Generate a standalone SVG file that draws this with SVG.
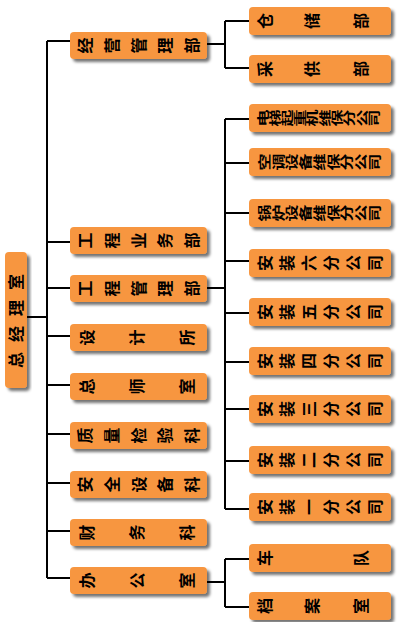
<svg xmlns="http://www.w3.org/2000/svg" width="400" height="622" viewBox="0 0 400 622">
<style>
.box{fill:#F7963F;filter:url(#sh)}
.t{font-family:"Noto Sans CJK SC","Noto Sans",sans-serif;font-weight:bold;font-size:16px;fill:#000}
.tl{font-family:"Noto Sans CJK SC","Noto Sans",sans-serif;font-weight:bold;font-size:17px;fill:#000}
.ln{stroke:#000;stroke-width:2;fill:none}
</style>
<defs>
<filter id="sh" x="-10%" y="-20%" width="130%" height="160%">
<feGaussianBlur in="SourceAlpha" stdDeviation="1.5"/>
<feOffset dx="3" dy="3" result="b"/>
<feComponentTransfer><feFuncA type="linear" slope="0.55"/></feComponentTransfer>
<feMerge><feMergeNode/><feMergeNode in="SourceGraphic"/></feMerge>
</filter>
</defs>
<rect width="400" height="622" fill="#fff"/>
<g id="connectors">
<path class="ln" d="M27,317H47M47,41V578M47,41H70M47,242H70M47,288H70M47,336H70M47,385H70M47,434H70M47,483H70M47,531H70M47,578H70"/>
<path class="ln" d="M207,44H225M225,21V68M225,21H249M225,68H249"/>
<path class="ln" d="M207,288H225M225,119V509M225,119H249M225,163H249M225,213H249M225,261H249M225,313H249M225,362H249M225,409H249M225,461H249M225,509H249"/>
<path class="ln" d="M207,582H225M225,559V607M225,559H249M225,607H249"/>
</g>
<g id="root"><rect class="box" x="5" y="252" width="22" height="136" rx="4"/><text class="t" x="22.1 22.1 22.1 22.1" y="368 342 316 290" rotate="-90">总经理室</text></g>
<g id="n_jygl"><rect class="box" x="70" y="32" width="137" height="27" rx="4"/><text class="t" x="91.1 117.85 144.6 171.35 198.1" y="53.5" rotate="-90">经营管理部</text></g>
<g id="n_gcyw"><rect class="box" x="70" y="227" width="137" height="27" rx="4"/><text class="t" x="91.1 117.85 144.6 171.35 198.1" y="248.5" rotate="-90">工程业务部</text></g>
<g id="n_gcgl"><rect class="box" x="70" y="275" width="137" height="27" rx="4"/><text class="t" x="91.1 117.85 144.6 171.35 198.1" y="296.5" rotate="-90">工程管理部</text></g>
<g id="n_sjs"><rect class="box" x="70" y="324" width="137" height="27" rx="4"/><text class="t" x="93.1 143.1 193.1" y="345.5" rotate="-90">设计所</text></g>
<g id="n_zss"><rect class="box" x="70" y="373" width="137" height="27" rx="4"/><text class="t" x="93.1 143.1 193.1" y="394.5" rotate="-90">总师室</text></g>
<g id="n_zljy"><rect class="box" x="70" y="422" width="137" height="27" rx="4"/><text class="t" x="91.1 117.85 144.6 171.35 198.1" y="443.5" rotate="-90">质量检验科</text></g>
<g id="n_aqsb"><rect class="box" x="70" y="471" width="137" height="27" rx="4"/><text class="t" x="91.1 117.85 144.6 171.35 198.1" y="492.5" rotate="-90">安全设备科</text></g>
<g id="n_cwk"><rect class="box" x="70" y="519" width="137" height="27" rx="4"/><text class="t" x="93.1 143.1 193.1" y="540.5" rotate="-90">财务科</text></g>
<g id="n_bgs"><rect class="box" x="70" y="567" width="137" height="27" rx="4"/><text class="t" x="93.1 143.1 193.1" y="588.5" rotate="-90">办公室</text></g>
<g id="n_ccb"><rect class="box" x="249" y="7" width="142" height="28" rx="4"/><text class="t" x="271.1 318.1 367.1" y="29" rotate="-90">仓储部</text></g>
<g id="n_cgb"><rect class="box" x="249" y="55" width="142" height="28" rx="4"/><text class="t" x="271.1 318.1 367.1" y="77" rotate="-90">采供部</text></g>
<g id="n_dt"><rect class="box" x="249" y="104" width="142" height="28" rx="4"/><g transform="scale(0.72 1)"><text class="tl" x="371.74 388.96 406.18 423.40 440.63 457.85 475.07 492.29 509.52 526.74" y="126.5" rotate="-90">电梯起重机维保分公司</text></g></g>
<g id="n_kt"><rect class="box" x="249" y="148" width="142" height="28" rx="4"/><g transform="scale(0.76 1)"><text class="tl" x="353.83 371.92 390.01 408.10 426.20 444.29 462.38 480.47 498.56" y="170.5" rotate="-90">空调设备维保分公司</text></g></g>
<g id="n_gl"><rect class="box" x="249" y="199" width="142" height="28" rx="4"/><g transform="scale(0.76 1)"><text class="tl" x="353.83 371.92 390.01 408.10 426.20 444.29 462.38 480.47 498.56" y="221.5" rotate="-90">锅炉设备维保分公司</text></g></g>
<g id="n_az6"><rect class="box" x="249" y="249" width="142" height="28" rx="4"/><text class="t" x="271.1 293.1 315.1 337.1 359.1 381.1" y="271" rotate="-90">安装六分公司</text></g>
<g id="n_az5"><rect class="box" x="249" y="298" width="142" height="28" rx="4"/><text class="t" x="271.1 293.1 315.1 337.1 359.1 381.1" y="320" rotate="-90">安装五分公司</text></g>
<g id="n_az4"><rect class="box" x="249" y="347" width="142" height="28" rx="4"/><text class="t" x="271.1 293.1 315.1 337.1 359.1 381.1" y="369" rotate="-90">安装四分公司</text></g>
<g id="n_az3"><rect class="box" x="249" y="395" width="142" height="28" rx="4"/><text class="t" x="271.1 293.1 315.1 337.1 359.1 381.1" y="417" rotate="-90">安装三分公司</text></g>
<g id="n_az2"><rect class="box" x="249" y="446" width="142" height="28" rx="4"/><text class="t" x="271.1 293.1 315.1 337.1 359.1 381.1" y="468" rotate="-90">安装二分公司</text></g>
<g id="n_az1"><rect class="box" x="249" y="493" width="142" height="28" rx="4"/><text class="t" x="271.1 293.1 315.1 337.1 359.1 381.1" y="515" rotate="-90">安装一分公司</text></g>
<g id="n_cd"><rect class="box" x="249" y="544" width="142" height="28" rx="4"/><text class="t" x="271.1 367.1" y="566" rotate="-90">车队</text></g>
<g id="n_das"><rect class="box" x="249" y="592" width="142" height="28" rx="4"/><text class="t" x="271.1 318.1 367.1" y="614" rotate="-90">档案室</text></g>
</svg>
